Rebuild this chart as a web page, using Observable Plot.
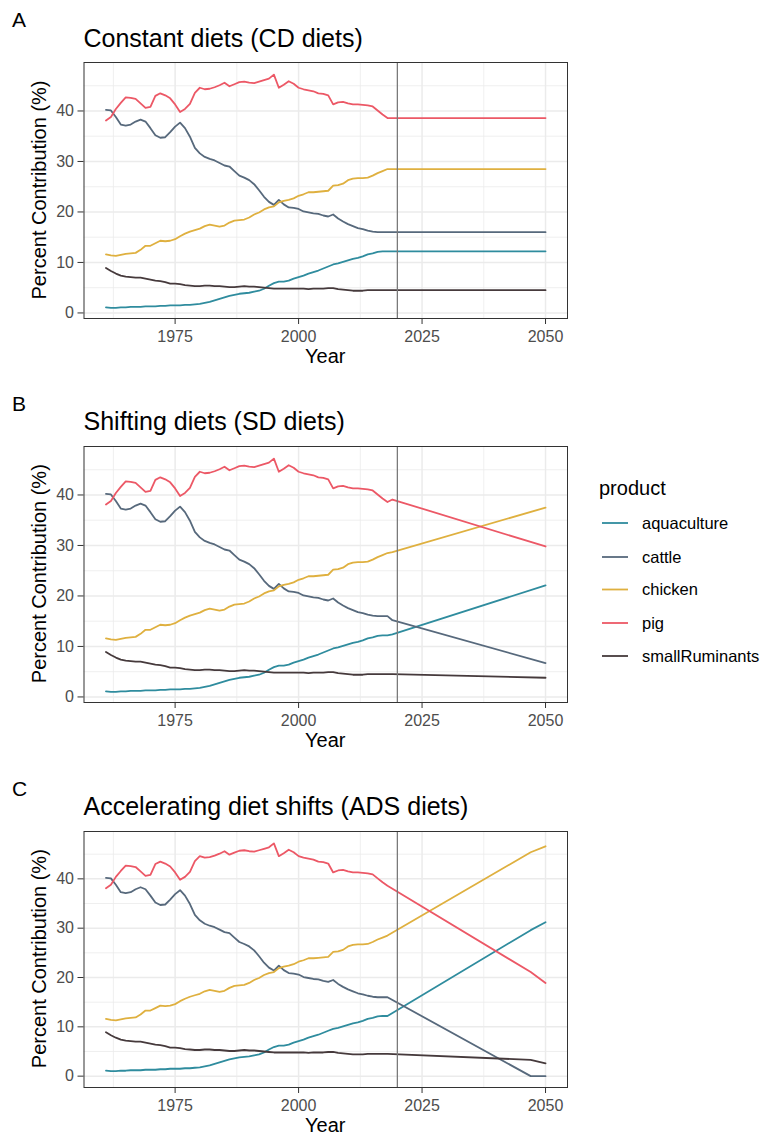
<!DOCTYPE html>
<html><head><meta charset="utf-8">
<script src="https://cdn.jsdelivr.net/npm/d3@7"></script>
<script src="https://cdn.jsdelivr.net/npm/@observablehq/plot@0.6"></script>
<style>
body{margin:0;background:#fff;font-family:"Liberation Sans",Arial,sans-serif;}
#root{position:relative;width:764px;height:1139px;overflow:hidden;background:#fff;}
.panel{position:absolute;left:0;}
#overlay{position:absolute;left:0;top:0;pointer-events:none;}
</style></head><body><div id="root"></div>
<script>
// ---------- data ----------
const products = ["aquaculture","cattle","chicken","pig","smallRuminants"];
const productColors = ["#2F8C9E","#57697C","#DFB03F","#EC5866","#463A3C"];

const histYears = [1961,1962,1963,1964,1965,1966,1967,1968,1969,1970,
  1971,1972,1973,1974,1975,1976,1977,1978,1979,1980,
  1981,1982,1983,1984,1985,1986,1987,1988,1989,1990,
  1991,1992,1993,1994,1995,1996,1997,1998,1999,2000,
  2001,2002,2003,2004,2005,2006,2007,2008,2009,2010,
  2011,2012,2013,2014,2015,2016,2017,2018];

const aquacultureHist = [1.1,1.0,1.0,1.1,1.1,1.2,1.2,1.2,1.3,1.3,
  1.3,1.4,1.4,1.5,1.5,1.5,1.6,1.6,1.7,1.8,
  2.0,2.2,2.5,2.8,3.1,3.4,3.6,3.8,3.9,4.0,
  4.2,4.4,4.8,5.4,5.9,6.2,6.2,6.4,6.8,7.1,
  7.4,7.8,8.1,8.4,8.8,9.2,9.6,9.8,10.1,10.4,
  10.7,10.9,11.2,11.6,11.8,12.1,12.2,12.2];
const cattleHist = [40.2,40.1,38.8,37.3,37.1,37.3,37.9,38.3,37.9,36.6,
  35.2,34.7,34.8,35.8,36.9,37.7,36.6,34.9,32.7,31.6,
  30.9,30.5,30.2,29.7,29.2,29.0,28.1,27.2,26.8,26.3,
  25.5,24.3,23.0,22.0,21.4,22.4,21.5,20.9,20.8,20.6,
  20.1,19.9,19.7,19.6,19.3,19.1,19.5,18.7,18.1,17.6,
  17.2,16.8,16.6,16.3,16.1,16.0,16.0,16.0];
const chickenHist = [11.6,11.4,11.3,11.5,11.7,11.8,11.9,12.5,13.3,13.3,
  13.8,14.3,14.2,14.3,14.6,15.2,15.7,16.1,16.4,16.7,
  17.2,17.5,17.3,17.1,17.3,17.9,18.3,18.4,18.5,18.9,
  19.5,19.9,20.5,20.9,21.1,21.9,22.2,22.4,22.7,23.2,
  23.5,23.9,23.9,24.0,24.1,24.2,25.2,25.3,25.6,26.3,
  26.6,26.7,26.7,26.8,27.2,27.7,28.1,28.5];
const pigHist = [38.1,38.8,40.4,41.6,42.7,42.6,42.4,41.5,40.6,40.8,
  43.0,43.5,43.1,42.5,41.3,39.8,40.4,41.4,43.6,44.6,
  44.3,44.4,44.7,45.1,45.6,44.9,45.3,45.7,45.8,45.6,
  45.5,45.8,46.1,46.4,47.2,44.6,45.2,45.9,45.4,44.6,
  44.3,44.1,43.9,43.5,43.4,43.1,41.3,41.7,41.8,41.5,
  41.3,41.3,41.2,41.1,40.9,40.1,39.3,38.6];
const smallRuminantsHist = [8.9,8.3,7.8,7.4,7.2,7.1,7.0,7.0,6.8,6.6,
  6.4,6.3,6.1,5.8,5.8,5.7,5.5,5.4,5.3,5.3,
  5.4,5.4,5.3,5.3,5.2,5.1,5.1,5.2,5.3,5.2,
  5.2,5.1,5.0,4.9,4.8,4.8,4.8,4.8,4.8,4.8,
  4.8,4.7,4.8,4.8,4.8,4.9,4.9,4.7,4.6,4.5,
  4.4,4.4,4.4,4.5,4.5,4.5,4.5,4.5];

// Constant diets projection
const cdYears = [2050];
const cdAquaculture = [12.2], cdCattle = [16.0], cdChicken = [28.5], cdPig = [38.6], cdSmallRuminants = [4.5];
// Shifting diets projection
const sdYears = [2019, 2050];
const sdAquaculture = [12.4, 22.1], sdCattle = [15.2, 6.7], sdChicken = [28.7, 37.5], sdPig = [39.1, 29.8], sdSmallRuminants = [4.5, 3.8];
// Accelerating diet shifts projection
const adsYears = [2047, 2050];
const adsAquaculture = [29.6, 31.2], adsCattle = [0, 0], adsChicken = [45.4, 46.6], adsPig = [21.1, 18.9], adsSmallRuminants = [3.3, 2.6];

const xMajor = [1975, 2000, 2025, 2050];
const xMinor = [1962.5, 1987.5, 2012.5, 2037.5];
const yMajor = [0, 10, 20, 30, 40];
const yMinor = [5, 15, 25, 35, 45];

const panelTitles = ["Constant diets (CD diets)", "Shifting diets (SD diets)", "Accelerating diet shifts (ADS diets)"];
const panelTags = ["A", "B", "C"];

// ---------- build ----------
const hist = [aquacultureHist, cattleHist, chickenHist, pigHist, smallRuminantsHist];
function build(projYears, proj) {
  const rows = [];
  products.forEach((p, i) => {
    histYears.forEach((yr, j) => rows.push({year: yr, value: hist[i][j], product: p}));
    projYears.forEach((yr, j) => rows.push({year: yr, value: proj[i][j], product: p}));
  });
  return rows;
}
const panelsData = [
  build(cdYears, [cdAquaculture, cdCattle, cdChicken, cdPig, cdSmallRuminants]),
  build(sdYears, [sdAquaculture, sdCattle, sdChicken, sdPig, sdSmallRuminants]),
  build(adsYears, [adsAquaculture, adsCattle, adsChicken, adsPig, adsSmallRuminants])
];
const yDomains = [[-1.1, 49.6], [-1.1, 49.6], [-2.3, 49.6]];
const plotTops = [62, 445.7, 830.7];
const plotLeft = 83.5, plotRight = 567, plotH = 256;

const root = document.getElementById("root");
const font = "Liberation Sans, Arial, Helvetica, sans-serif";

panelsData.forEach((data, k) => {
  const chart = Plot.plot({
    width: 580, height: 320,
    marginLeft: plotLeft, marginRight: 580 - plotRight, marginTop: 10, marginBottom: 54,
    style: {fontFamily: font, background: "transparent", overflow: "visible"},
    x: {domain: [1956.55, 2054.45], label: null},
    y: {domain: yDomains[k], label: null},
    color: {domain: products, range: productColors},
    marks: [
      Plot.ruleX(xMinor, {stroke: "#EBEBEB", strokeWidth: 0.8}),
      Plot.ruleY(yMinor, {stroke: "#EBEBEB", strokeWidth: 0.8}),
      Plot.ruleX(xMajor, {stroke: "#EBEBEB", strokeWidth: 1.5}),
      Plot.ruleY(yMajor, {stroke: "#EBEBEB", strokeWidth: 1.5}),
      Plot.line(data, {x: "year", y: "value", z: "product", stroke: "product", strokeWidth: 1.8}),
      Plot.ruleX([2020], {stroke: "#7a7a7a", strokeWidth: 1.3}),
      Plot.frame({stroke: "#333333", strokeWidth: 1}),
      Plot.axisX({ticks: xMajor, tickFormat: d => String(d), tickSize: 6, tickPadding: 6, fontSize: 16, stroke: "#333333", fill: "#4D4D4D", label: null}),
      Plot.axisY({ticks: yMajor, tickSize: 6, tickPadding: 4, fontSize: 16, stroke: "#333333", fill: "#4D4D4D", label: null})
    ]
  });
  const div = document.createElement("div");
  div.className = "panel";
  div.style.top = (plotTops[k] - 10) + "px";
  div.appendChild(chart);
  root.appendChild(div);
});

// ---------- overlay text & legend ----------
const svg = d3.select(root).append("svg").attr("id", "overlay")
  .attr("width", 764).attr("height", 1139).style("font-family", font);

plotTops.forEach((T, k) => {
  svg.append("text").attr("x", 12).attr("y", T - 35).attr("font-size", 21).attr("fill", "#000").text(panelTags[k]);
  svg.append("text").attr("x", plotLeft).attr("y", T - 15.5).attr("font-size", 25).attr("fill", "#000").text(panelTitles[k]);
  svg.append("text").attr("x", (plotLeft + plotRight) / 2).attr("y", T + 301).attr("text-anchor", "middle")
    .attr("font-size", 20).attr("fill", "#000").text("Year");
  svg.append("text").attr("transform", `translate(46,${T + plotH / 2}) rotate(-90)`).attr("text-anchor", "middle")
    .attr("font-size", 20).attr("fill", "#000").text("Percent Contribution (%)");
});

const legendItemY = [523, 557, 589.5, 623, 656];
svg.append("text").attr("x", 599).attr("y", 495).attr("font-size", 20).attr("fill", "#000").text("product");
products.forEach((p, i) => {
  svg.append("line").attr("x1", 602).attr("x2", 628).attr("y1", legendItemY[i]).attr("y2", legendItemY[i])
    .attr("stroke", productColors[i]).attr("stroke-width", 1.8);
  svg.append("text").attr("x", 642).attr("y", legendItemY[i]).attr("dy", "0.35em")
    .attr("font-size", 16.5).attr("fill", "#000").text(p);
});
</script>
</body></html>
